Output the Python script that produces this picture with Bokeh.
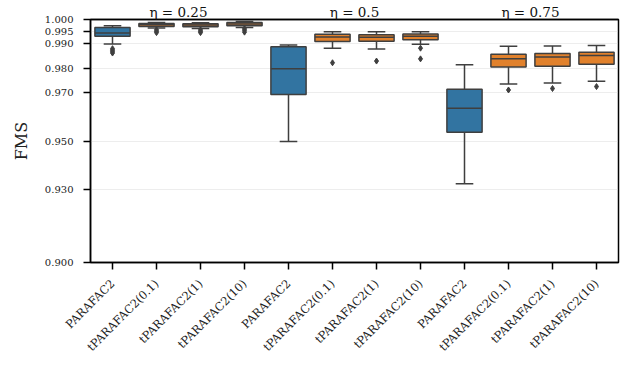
import math
from bokeh.plotting import figure
from bokeh.models import FixedTicker, LinearAxis, ColumnDataSource
from bokeh.embed import file_html
from bokeh.resources import INLINE

# ---- data ----
methods = ["PARAFAC2", "tPARAFAC2(0.1)", "tPARAFAC2(1)", "tPARAFAC2(10)"]
groups = ["η = 0.25", "η = 0.5", "η = 0.75"]
labels = methods * 3

lower_whisker = [0.9899, 0.9965, 0.9963, 0.9967,
                 0.9498, 0.9882, 0.9879, 0.9898,
                 0.9324, 0.9735, 0.9739, 0.9746]
q1 = [0.9931, 0.9971, 0.9970, 0.9974,
      0.9691, 0.9909, 0.9910, 0.9917,
      0.9536, 0.9805, 0.9808, 0.9816]
median = [0.9944, 0.9978, 0.9977, 0.9981,
          0.9797, 0.9928, 0.9927, 0.9931,
          0.9635, 0.9838, 0.9846, 0.9852]
q3 = [0.9967, 0.9984, 0.9982, 0.9988,
      0.9888, 0.9939, 0.9937, 0.9940,
      0.9713, 0.9857, 0.9860, 0.9865]
upper_whisker = [0.9974, 0.9988, 0.9987, 0.9992,
                 0.9895, 0.9950, 0.9950, 0.9950,
                 0.9814, 0.9890, 0.9891, 0.9893]
outliers = [[0.9880, 0.9874, 0.9868, 0.9862],
            [0.9958, 0.9952, 0.9946],
            [0.9957, 0.9951, 0.9946],
            [0.9962, 0.9956, 0.9948],
            [],
            [0.9822],
            [0.9829],
            [0.9882, 0.9838],
            [],
            [0.9710],
            [0.9716],
            [0.9724]]

y_ticks = [0.900, 0.930, 0.950, 0.970, 0.980, 0.990, 0.995, 1.000]
y_tick_labels = ["0.900", "0.930", "0.950", "0.970", "0.980", "0.990", "0.995", "1.000"]

BLUE = "#3274a1"
ORANGE = "#e1812c"
GRAY = "#3f3f3f"
SERIF = "DejaVu Serif"

xs = list(range(len(labels)))
colors = [BLUE if m == "PARAFAC2" else ORANGE for m in labels]

p = figure(width=624, height=362, x_range=(-0.5, 11.5), y_range=(0.9, 1.0),
           output_backend="svg", toolbar_location=None,
           min_border_left=90, min_border_right=6,
           min_border_top=17, min_border_bottom=100)
p.background_fill_color = "white"
p.border_fill_color = "white"
p.outline_line_color = "black"
p.outline_line_width = 1.5
p.outline_line_alpha = 1.0

# grid
p.xgrid.grid_line_color = None
p.ygrid.ticker = FixedTicker(ticks=y_ticks)
p.ygrid.grid_line_color = "#d0d0d0"
p.ygrid.grid_line_dash = "1 1"
p.ygrid.grid_line_width = 0.8

# whiskers
src = ColumnDataSource(dict(x=xs, lw=lower_whisker, q1=q1, med=median,
                            q3=q3, uw=upper_whisker, color=colors,
                            xl=[x - 0.2 for x in xs], xr=[x + 0.2 for x in xs],
                            bl=[x - 0.4 for x in xs], br=[x + 0.4 for x in xs]))
p.segment(x0="x", y0="lw", x1="x", y1="q1", source=src, line_color=GRAY, line_width=1.5)
p.segment(x0="x", y0="q3", x1="x", y1="uw", source=src, line_color=GRAY, line_width=1.5)
p.segment(x0="xl", y0="lw", x1="xr", y1="lw", source=src, line_color=GRAY, line_width=1.5)
p.segment(x0="xl", y0="uw", x1="xr", y1="uw", source=src, line_color=GRAY, line_width=1.5)
# boxes
p.vbar(x="x", width=0.8, bottom="q1", top="q3", source=src,
       fill_color="color", line_color=GRAY, line_width=1.5)
# medians
p.segment(x0="bl", y0="med", x1="br", y1="med", source=src, line_color=GRAY, line_width=1.5)

# outliers
ox, oy = [], []
for i, vals in enumerate(outliers):
    for v in vals:
        ox.append(xs[i])
        oy.append(v)
p.scatter(ox, oy, marker="diamond", size=6, fill_color=GRAY, line_color=GRAY)

# axes
yax = p.yaxis[0]
yax.ticker = FixedTicker(ticks=y_ticks)
yax.major_label_overrides = {t: l for t, l in zip(y_ticks, y_tick_labels)}
yax.axis_label = "FMS"
yax.axis_label_text_font = SERIF
yax.axis_label_text_font_style = "normal"
yax.axis_label_text_font_size = "16px"
yax.axis_label_text_color = "#222222"
yax.axis_label_standoff = 11

xax = p.xaxis[0]
xax.ticker = FixedTicker(ticks=xs)
xax.major_label_overrides = {x: l for x, l in zip(xs, labels)}
xax.major_label_orientation = math.pi / 4

for ax in (xax, yax):
    ax.axis_line_color = "black"
    ax.axis_line_width = 1.5
    ax.major_tick_line_color = "black"
    ax.major_tick_line_width = 1.5
    ax.major_tick_in = 0
    ax.major_tick_out = 7
    ax.minor_tick_line_color = None
    ax.major_label_text_font = SERIF
    ax.major_label_text_color = "#222222"
yax.major_label_standoff = 10
xax.major_label_standoff = 12
yax.major_label_text_font_size = "10px"
xax.major_label_text_font_size = "11.5px"

# group titles as a top axis
centers = [sum(xs[gi * 4: gi * 4 + 4]) / 4.0 for gi in range(len(groups))]
top = LinearAxis(ticker=FixedTicker(ticks=centers),
                 major_label_overrides={c: g for c, g in zip(centers, groups)})
top.axis_line_color = "black"
top.axis_line_width = 1.5
top.major_tick_line_color = None
top.minor_tick_line_color = None
top.major_tick_in = 0
top.major_tick_out = 0
top.major_label_standoff = 0
top.major_label_text_font = SERIF
top.major_label_text_font_size = "13.5px"
top.major_label_text_color = "#111111"
p.add_layout(top, "above")

open("out.html", "w").write(file_html(p, INLINE))
